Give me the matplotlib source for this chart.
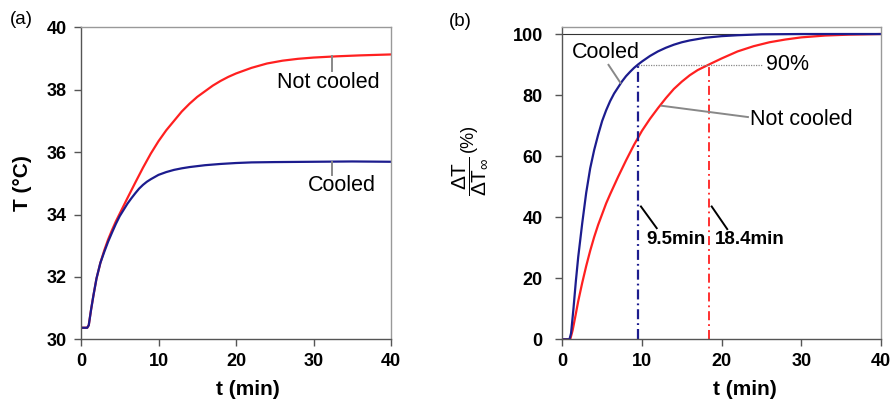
import numpy as np
import matplotlib
matplotlib.use('Agg')
import matplotlib.pyplot as plt

plt.rcParams['font.family'] = ['Liberation Sans', 'DejaVu Sans']
plt.rcParams['mathtext.fontset'] = 'custom'
plt.rcParams['mathtext.rm'] = 'Liberation Sans'
plt.rcParams['mathtext.it'] = 'Liberation Sans:italic'
plt.rcParams['mathtext.bf'] = 'Liberation Sans:bold'

# (a) temperature
t_a_nc = [0, 0.8, 1.0, 1.3, 1.6, 2, 2.5, 3, 3.5, 4, 4.5, 5, 6, 7, 8, 9, 10, 11,
          12, 13, 14, 15, 16, 17, 18, 19, 20, 22, 24, 26, 28, 30, 33, 36, 40]
T_not_cooled = [30.37, 30.37, 30.45, 30.95, 31.4, 31.95, 32.45, 32.85, 33.2, 33.5,
                33.78, 34.03, 34.53, 35.02, 35.5, 35.95, 36.35, 36.7, 37.0, 37.3,
                37.55, 37.77, 37.95, 38.13, 38.28, 38.41, 38.52, 38.7, 38.84,
                38.93, 38.99, 39.03, 39.07, 39.1, 39.13]
t_a_c = [0, 0.8, 1.0, 1.3, 1.6, 2, 2.5, 3, 3.5, 4, 4.5, 5, 5.5, 6, 6.5, 7, 7.5,
         8, 8.5, 9, 10, 11, 12, 13, 14, 16, 18, 20, 22, 25, 30, 35, 40]
T_cooled = [30.37, 30.37, 30.45, 30.95, 31.4, 31.95, 32.45, 32.8, 33.13, 33.42,
            33.7, 33.95, 34.15, 34.35, 34.52, 34.68, 34.83, 34.95, 35.05, 35.13,
            35.27, 35.36, 35.43, 35.48, 35.52, 35.58, 35.62, 35.65, 35.67, 35.68,
            35.69, 35.70, 35.69]

# (b) normalised rise (%)
t_b_c = [0, 0.9, 1.1, 1.4, 1.7, 2, 2.5, 3, 3.5, 4, 4.5, 5, 5.5, 6, 6.5, 7, 7.5,
         8, 8.5, 9, 9.5, 10, 11, 12, 13, 14, 15, 16, 18, 20, 22, 25, 30, 40]
P_cooled = [0, 0, 2, 10, 19, 27, 38, 48, 56, 62, 67, 71.5, 75, 78, 80.5, 82.5,
            84.5, 86.2, 87.6, 88.9, 90, 91, 92.8, 94.3, 95.5, 96.5, 97.3, 97.9,
            98.8, 99.3, 99.6, 99.9, 100, 100]
t_b_nc = [0, 1.0, 1.3, 1.6, 2, 2.5, 3, 3.5, 4, 4.5, 5, 5.5, 6, 7, 8, 9, 10, 11,
          12, 13, 14, 15, 16, 17, 18.4, 20, 22, 24, 26, 28, 30, 33, 36, 40]
P_not_cooled = [0, 0, 3, 7, 12.5, 18.5, 24, 29, 33.5, 37.5, 41, 44.5, 47.5, 53.2,
                58.6, 63.7, 68.3, 72.2, 75.7, 79, 82, 84.4, 86.5, 88.2, 90, 92,
                94.3, 96, 97.3, 98.2, 98.9, 99.5, 99.8, 100]

t90_cooled = 9.5
t90_not_cooled = 18.4

RED = '#ff2020'
BLUE = '#1c1c8e'

fig = plt.figure(figsize=(8.91, 4.05), dpi=100)
ax1 = fig.add_axes([81/891, 1-339.3/405, 310/891, 312/405])
ax2 = fig.add_axes([562.3/891, 1-339.3/405, 318.7/891, 312/405])


def style_axes(ax, xticks, yticks, ypad):
    ax.set_xticks(xticks, [str(v) for v in xticks], fontweight='bold', fontsize=13)
    ax.set_yticks(yticks, [str(v) for v in yticks], fontweight='bold', fontsize=13)
    for s in ['left', 'bottom']:
        ax.spines[s].set_color('#555555')
    for s in ['top', 'right']:
        ax.spines[s].set_color('#999999')
    for s in ax.spines.values():
        s.set_linewidth(1.0)
    ax.tick_params(axis='both', direction='out', length=5, width=1.0,
                   color='#555555')
    ax.tick_params(axis='y', pad=ypad)
    ax.tick_params(axis='x', pad=5)


# ---- panel (a)
ax1.plot(t_a_nc, T_not_cooled, color=RED, lw=1.6)
ax1.plot(t_a_c, T_cooled, color=BLUE, lw=1.6)
ax1.set_xlim(0, 40)
ax1.set_ylim(30, 40)
style_axes(ax1, [0, 10, 20, 30, 40], [30, 32, 34, 36, 38, 40], 5)
ax1.set_xlabel('t (min)', fontsize=15, fontweight='bold')
ax1.set_ylabel('T (°C)', fontsize=15, fontweight='bold')
ax1.xaxis.set_label_coords(0.537, -0.13)
ax1.yaxis.set_label_coords(-0.158, 0.5)

ax1.plot([32.35, 32.35], [39.08, 38.61], color='#888888', lw=1.4)
ax1.plot([32.35, 32.35], [35.69, 35.27], color='#888888', lw=1.4)
ax1.text(31.9, 38.22, 'Not cooled', fontsize=15.5, ha='center', va='center')
ax1.text(33.7, 34.94, 'Cooled', fontsize=15.5, ha='center', va='center')

# ---- panel (b)
ax2.axhline(100, color='#333333', lw=0.8)
ax2.plot(t_b_nc, P_not_cooled, color=RED, lw=1.6)
ax2.plot(t_b_c, P_cooled, color=BLUE, lw=1.6)
ax2.plot([t90_cooled, 25.2], [90, 90], color='#888888', lw=0.9, ls=(0, (1, 1)))
ax2.plot([t90_cooled, t90_cooled], [0, 90], color=BLUE, lw=1.6,
         ls=(0, (4.5, 1.8, 0.8, 1.8)))
ax2.plot([t90_not_cooled, t90_not_cooled], [0, 90], color=RED, lw=1.3,
         ls=(0, (5, 2.2, 1, 2.2)))
ax2.set_xlim(0, 40)
ax2.set_ylim(0, 102.2)
style_axes(ax2, [0, 10, 20, 30, 40], [0, 20, 40, 60, 80, 100], 9)
ax2.set_xlabel('t (min)', fontsize=15, fontweight='bold')
ax2.xaxis.set_label_coords(0.572, -0.13)

# y label of (b): fraction plus (%)
fig.text(470/891, 1-176/405,
         r'$\dfrac{\Delta\mathrm{T}}{\Delta\mathrm{T}_{\infty}}$',
         rotation=90, fontsize=15, ha='center', va='center')
fig.text(468/891, 1-138/405, '(%)', rotation=90, fontsize=13,
         ha='center', va='center')

ax2.text(5.5, 93.9, 'Cooled', fontsize=15.5, ha='center', va='center')
ax2.plot([5.8, 7.3], [89.9, 84], color='#888888', lw=1.4)
ax2.text(25.6, 90, '90%', fontsize=15.5, ha='left', va='center')
ax2.text(23.55, 71.9, 'Not cooled', fontsize=15.5, ha='left', va='center')
ax2.plot([12.47, 23.3], [76.5, 72.8], color='#888888', lw=1.4)
ax2.text(10.6, 32.6, '9.5min', fontsize=13.5, fontweight='bold', ha='left', va='center')
ax2.plot([9.87, 11.85], [43.5, 36.4], color='black', lw=1.4)
ax2.text(19.16, 32.6, '18.4min', fontsize=13.5, fontweight='bold', ha='left', va='center')
ax2.plot([18.75, 20.7], [43.5, 36.1], color='black', lw=1.4)

fig.text(21/891, 1-20/405, '(a)', fontsize=13.5, ha='center', va='center')
fig.text(460/891, 1-22/405, '(b)', fontsize=13.5, ha='center', va='center')

fig.savefig('out.png', dpi=100)
